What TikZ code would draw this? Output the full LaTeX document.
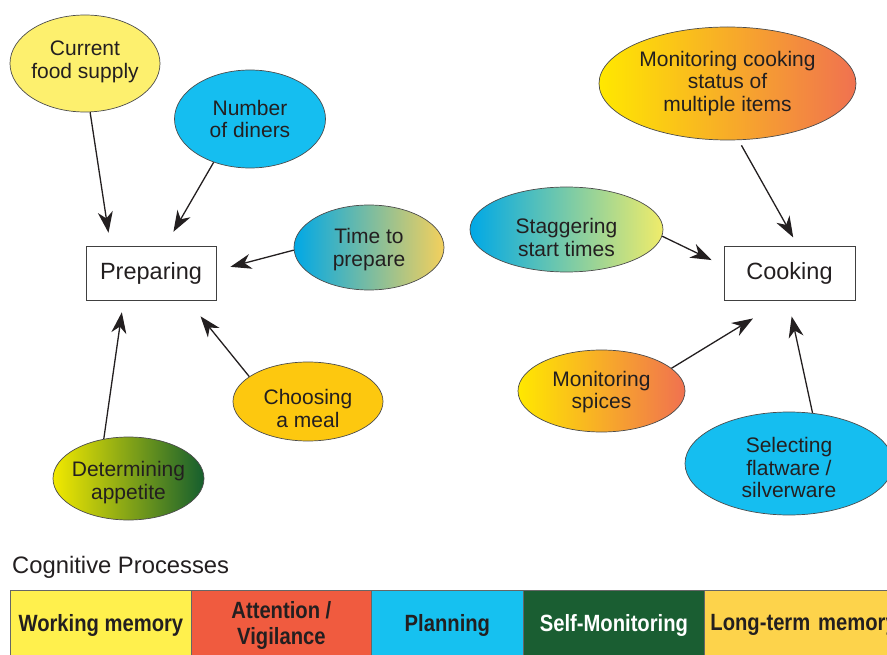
\documentclass[tikz,border=0pt]{standalone}
\usepackage{fontspec}
\setmainfont{Liberation Sans}
\newfontfamily\legfont[FakeStretch=0.86]{Liberation Sans}
\usetikzlibrary{shapes.geometric,arrows.meta,calc}
\definecolor{txt}{HTML}{231F20}
\definecolor{cfsY}{HTML}{FDF06E}
\definecolor{cyanB}{HTML}{15BEF0}
\definecolor{goldC}{HTML}{FDC80F}
\definecolor{gY}{HTML}{FFE800}
\definecolor{gO}{HTML}{F9B23A}
\definecolor{gR}{HTML}{F07150}
\definecolor{gB}{HTML}{00A8E6}
\definecolor{gT}{HTML}{72BFB2}
\definecolor{gG}{HTML}{F4D05C}
\definecolor{sL}{HTML}{F0EC6A}
\definecolor{sM}{HTML}{7CC6B4}
\definecolor{dY}{HTML}{F2E900}
\definecolor{dG}{HTML}{155E2E}
\definecolor{dM}{HTML}{8CA52A}
\definecolor{lWM}{HTML}{FFF04D}
\definecolor{lAT}{HTML}{F05B3F}
\definecolor{lPL}{HTML}{16C1F0}
\definecolor{lSM}{HTML}{1A5E32}
\definecolor{lLT}{HTML}{FDD34B}
\begin{document}
\begin{tikzpicture}[x=1pt,y=-1pt,
  bub/.style={ellipse, draw=black!70, line width=0.7pt, inner sep=0pt},
  btxt/.style={align=center, font=\fontsize{21}{22.5}\selectfont, text=txt, inner sep=0pt},
  proc/.style={draw=black!75, line width=0.8pt, minimum width=130pt, minimum height=54pt, inner sep=0pt, font=\fontsize{23.5}{26}\selectfont, text=txt},
  arr/.style={line width=1.3pt, draw=txt, -{Stealth[length=21pt,width=15pt,inset=6.5pt]}},
  leg/.style={draw=black!60, line width=0.8pt, anchor=north west, minimum height=70pt, inner sep=0pt, align=center, font=\legfont\bfseries\fontsize{23.5}{26}\selectfont, text=txt}]
\useasboundingbox (0,0) rectangle (887,655);
\clip (0,0) rectangle (887,655);

% process boxes
\node[proc] (prep) at (151,273) {Preparing};
\node[proc, minimum width=131pt] (cook) at (789.5,273) {Cooking};

% left bubbles
\node[bub, minimum width=150pt, minimum height=97pt, fill=cfsY,
  label={[btxt, yshift=1.5pt]center:Current\\food supply}] (cfs) at (85,63.5) {};
\node[bub, minimum width=151pt, minimum height=98pt, fill=cyanB,
  label={[btxt]center:Number\\of diners}] (nod) at (250,119) {};
\node[bub, minimum width=150pt, minimum height=85pt, left color=gB, middle color=gT, right color=gG, draw=black!70,
  label={[btxt, yshift=-2pt]center:Time to\\prepare}] (time) at (369,247.5) {};
\node[bub, minimum width=150pt, minimum height=79pt, fill=goldC,
  label={[btxt, yshift=-7pt]center:Choosing\\a meal}] (choose) at (308,401.5) {};
\node[bub, minimum width=151pt, minimum height=83pt, left color=dY, middle color=dM, right color=dG, draw=black!70,
  label={[btxt, yshift=-4pt]center:Determining\\appetite}] (det) at (128.5,478.5) {};

% right bubbles
\node[bub, minimum width=257pt, minimum height=113pt, left color=gY, middle color=gO, right color=gR, draw=black!70,
  label={[btxt]center:Monitoring cooking\\status of\\multiple items}] (moncook) at (727.5,83.5) {};
\node[bub, minimum width=193pt, minimum height=85pt, left color=gB, middle color=sM, right color=sL, draw=black!70,
  label={[btxt, yshift=-8pt]center:Staggering\\start times}] (stag) at (566.5,229.5) {};
\node[bub, minimum width=167pt, minimum height=82pt, left color=gY, middle color=gO, right color=gR, draw=black!70,
  label={[btxt, yshift=-1pt]center:Monitoring\\spices}] (spice) at (601.5,391) {};
\node[bub, minimum width=208pt, minimum height=103pt, fill=cyanB,
  label={[btxt, yshift=-4pt]center:Selecting\\flatware /\\silverware}] (sel) at (789,463.5) {};

% connectors
\draw[arr, shorten >=13pt] (cfs.276) -- ($(prep.north west)!0.19!(prep.north east)$);
\draw[arr, shorten >=16pt] (nod.230) -- ($(prep.north west)!0.61!(prep.north east)$);
\draw[arr, shorten >=14.5pt] (time.182) -- ($(prep.north east)!0.455!(prep.south east)$);
\draw[arr, shorten >=20.5pt] (choose.157) -- ($(prep.south west)!0.78!(prep.south east)$);
\draw[arr, shorten >=12pt] (det.122) -- ($(prep.south west)!0.29!(prep.south east)$);
\draw[arr, shorten <=6pt, shorten >=9.3pt] (moncook.281) -- ($(cook.north west)!0.563!(cook.north east)$);
\draw[arr, shorten >=13.4pt] (stag.356) -- ($(cook.north west)!0.37!(cook.south west)$);
\draw[arr, shorten >=34.6pt] (spice.18) -- ($(cook.south west)!0.447!(cook.south east)$);
\draw[arr, shorten >=16.4pt] (sel.65) -- ($(cook.south west)!0.49!(cook.south east)$);

% legend
\node[anchor=west, inner sep=0pt, font=\fontsize{23.8}{26}\selectfont, text=txt] (cogtitle) at (12,567) {Cognitive Processes};
\node[leg, fill=lWM, minimum width=181pt] (wm) at (10,590) {Working memory};
\node[leg, fill=lAT, minimum width=180pt] (att) at (191,590) {Attention /\\Vigilance};
\node[leg, fill=lPL, minimum width=152pt] (plan) at (371,590) {Planning};
\node[leg, fill=lSM, minimum width=181pt, text=white] (selfm) at (523,590) {Self-Monitoring};
\node[leg, fill=lLT, minimum width=200pt, text width=200pt, align=left] (ltm) at (704,590) {\hspace*{6pt}Long-term memory};
\end{tikzpicture}
\end{document}
